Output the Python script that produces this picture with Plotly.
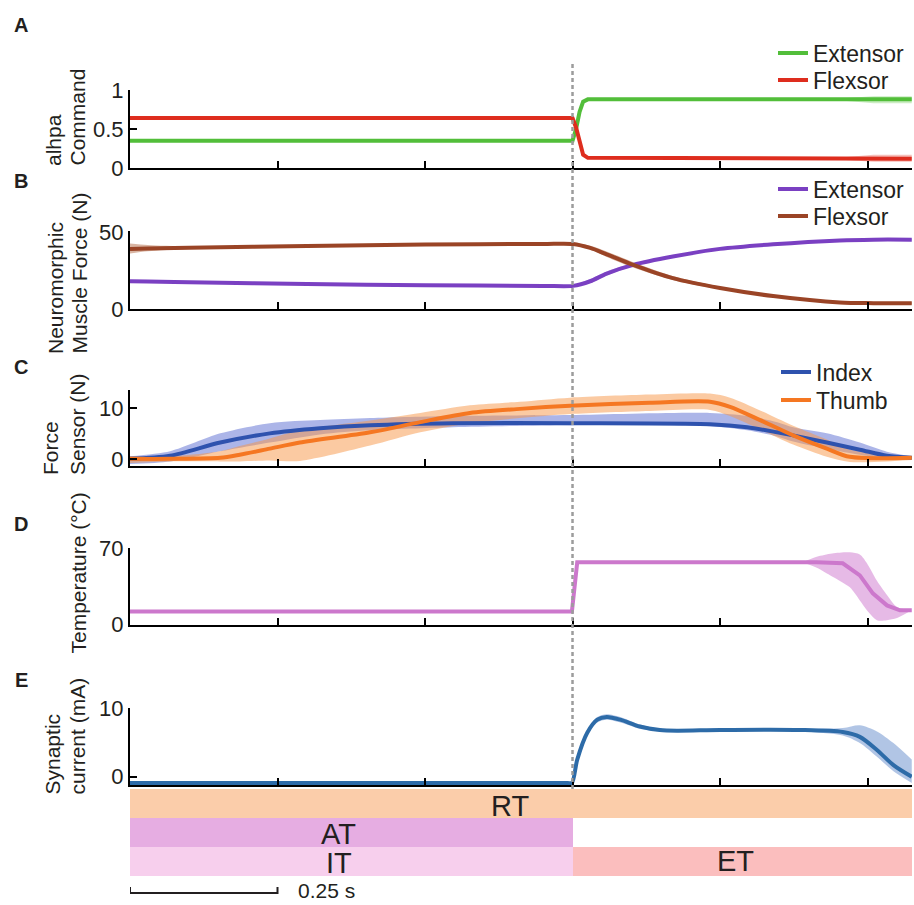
import plotly.graph_objects as go

W, H = 914, 905
def px(x):
    return x / W
def py(y):
    return 1 - y / H

# ---------------- data ----------------
T_END = 1.3254
x_ticks = [0.25, 0.5, 0.75, 1.0, 1.25]
onset_t = 0.75

# A: alpha command
tA = [0, 0.75, 0.756, 0.762, 0.768, 0.776, 1.2, 1.26, 1.325]
A_ext = [0.35, 0.35, 0.5, 0.72, 0.85, 0.88, 0.88, 0.88, 0.88]
A_ext_lo = [0.35, 0.35, 0.5, 0.72, 0.85, 0.88, 0.87, 0.83, 0.83]
A_ext_hi = [0.35, 0.35, 0.5, 0.72, 0.85, 0.88, 0.89, 0.92, 0.92]
A_flx = [0.64, 0.64, 0.52, 0.32, 0.17, 0.13, 0.12, 0.12, 0.12]
A_flx_lo = [0.64, 0.64, 0.52, 0.32, 0.17, 0.13, 0.11, 0.08, 0.08]
A_flx_hi = [0.64, 0.64, 0.52, 0.32, 0.17, 0.13, 0.13, 0.17, 0.17]

# B: neuromorphic muscle force (N)
tB = [0, 0.03, 0.1, 0.3, 0.5, 0.7, 0.751, 0.78, 0.808, 0.853, 0.92, 1.0, 1.09, 1.203, 1.26, 1.325]
B_flx = [39, 39.3, 39.8, 40.8, 41.8, 42.2, 42.2, 39.6, 35.5, 28.6, 20, 13.6, 8.4, 4.2, 3.8, 3.8]
B_flx_lo = [36, 37.5, 39, 40.3, 41.3, 41.7, 41.7, 38.6, 33.8, 26.9, 18.8, 12.8, 7.8, 3.7, 3.3, 3.3]
B_flx_hi = [42.5, 41.5, 40.6, 41.3, 42.3, 42.7, 42.8, 41.0, 37.3, 30.4, 21.4, 14.5, 9.0, 4.7, 4.3, 4.3]
B_ext = [18, 17.8, 17.3, 16.2, 15.4, 15, 15, 18, 23, 28.6, 34, 39, 42, 44.5, 45, 45]
B_ext_lo = [17.3, 17.2, 16.8, 15.7, 14.9, 14.5, 14.5, 16.8, 21.8, 27.8, 33.4, 38.5, 41.5, 44, 44.5, 44.5]
B_ext_hi = [18.7, 18.4, 17.8, 16.7, 15.9, 15.5, 15.7, 19.4, 24.4, 29.6, 34.6, 39.5, 42.5, 45, 45.5, 45.5]

# C: force sensor (N)
tCi = [0, 0.068, 0.153, 0.237, 0.322, 0.407, 0.547, 0.746, 0.983, 1.046, 1.097, 1.124, 1.181, 1.237, 1.283, 1.325]
C_idx = [0, 0.6, 3.2, 5, 6, 6.6, 7, 7, 6.8, 6.2, 5.2, 4.6, 3.2, 1.8, 0.6, 0.2]
C_idx_hi = [0.5, 1.5, 5, 7, 7.6, 8, 8.4, 8.6, 9, 8.4, 7.2, 6.2, 5, 3.2, 1.4, 0.5]
C_idx_lo = [-1, -0.5, 1.5, 3.2, 4.8, 5.6, 6.2, 6.6, 6.4, 5.6, 4.4, 3.4, 2, 0.8, 0, -0.2]
tCt = [0, 0.068, 0.153, 0.186, 0.237, 0.288, 0.407, 0.492, 0.576, 0.661, 0.746, 0.881, 0.983, 1.017, 1.068, 1.124, 1.181, 1.22, 1.325]
C_thb = [0, 0, 0.2, 0.8, 2, 3.2, 5.2, 7.2, 9, 9.8, 10.4, 11, 11.2, 10.2, 7.6, 4.6, 2, 0.4, 0.2]
C_thb_hi = [0.5, 0.5, 1.5, 2.5, 4, 5.6, 7.5, 9, 10.5, 11.2, 12, 12.6, 12.8, 12, 9.5, 6.5, 3.8, 1.8, 0.5]
C_thb_lo = [-0.8, -0.5, -0.5, -0.5, -0.3, -0.4, 2.6, 5.2, 7, 8, 8.8, 9.4, 9.6, 8.4, 5.8, 2.8, 0.4, -0.6, -0.2]

# D: temperature (degC)
tD = [0, 0.749, 0.758, 1.0, 1.164, 1.208, 1.237, 1.259, 1.283, 1.305, 1.325]
D_tmp = [12, 12, 57, 57, 57, 56, 45, 28.5, 17.5, 13, 13]
tD_band = [1.14, 1.164, 1.19, 1.22, 1.237, 1.249, 1.266, 1.283, 1.3, 1.325]
D_tmp_hi = [57, 62, 65, 66, 64, 56, 40, 27, 16, 13]
D_tmp_lo = [57, 52, 44, 34, 22, 13, 4, 4, 6, 13]

# E: synaptic current (mA)
tE = [0, 0.35, 0.7, 0.742, 0.749, 0.758, 0.775, 0.792, 0.808, 0.831, 0.864, 0.898, 0.927, 1.0, 1.136, 1.208, 1.237, 1.266, 1.294, 1.325]
E_cur = [-0.9, -0.9, -0.9, -0.9, -0.9, 2.5, 6.4, 8.3, 8.7, 8.3, 7.3, 6.8, 6.7, 6.8, 6.8, 6.5, 5.8, 3.9, 1.7, 0.0]
E_cur_hi = [-0.9, -0.9, -0.9, -0.9, -0.9, 2.7, 6.7, 8.7, 9.1, 8.7, 7.6, 7.0, 6.9, 7.0, 7.0, 7.1, 7.5, 6.6, 4.9, 2.5]
E_cur_lo = [-0.9, -0.9, -0.9, -0.9, -0.9, 2.3, 6.1, 7.9, 8.3, 7.9, 7.0, 6.6, 6.5, 6.6, 6.6, 6.0, 4.9, 2.9, 0.8, -0.9]

# Phase bars
phase_names = ["RT", "AT", "IT", "ET"]
phase_start = [0, 0, 0, 0.75]
phase_end = [1.3254, 0.75, 0.75, 1.3254]
phase_row = [2, 1, 0, 0]
phase_colors = ["#FBCDAA", "#E6ADE2", "#F7CFED", "#FBBEBE"]
phase_label_t = [0.644, 0.354, 0.354, 1.027]
scale_bar_len = 0.25

# ---------------- figure ----------------
FONT = "Liberation Sans, Arial, sans-serif"
TXT = "#231F20"
fig = go.Figure()

def band(t, lo, hi, color, ax, shape="spline"):
    fig.add_trace(go.Scatter(x=t, y=lo, mode="lines", line=dict(width=0, shape=shape, smoothing=0.8),
                             showlegend=False, hoverinfo="skip", xaxis="x" + ax, yaxis="y" + ax))
    fig.add_trace(go.Scatter(x=t, y=hi, mode="lines", line=dict(width=0, shape=shape, smoothing=0.8),
                             fill="tonexty", fillcolor=color, showlegend=False, hoverinfo="skip",
                             xaxis="x" + ax, yaxis="y" + ax))

def line(t, y, color, ax, name=None, legend="legend", shape="spline"):
    fig.add_trace(go.Scatter(x=t, y=y, mode="lines", name=name,
                             line=dict(color=color, width=4, shape=shape, smoothing=0.8),
                             showlegend=name is not None, legend=legend,
                             xaxis="x" + ax, yaxis="y" + ax))

# A
band(tA, A_ext_lo, A_ext_hi, "rgba(85,194,58,0.3)", "", "linear")
band(tA, A_flx_lo, A_flx_hi, "rgba(224,48,30,0.3)", "", "linear")
line(tA, A_ext, "#52BE3A", "", "Extensor", "legend", "linear")
line(tA, A_flx, "#DE2D1E", "", "Flexsor", "legend2", "linear")
# B
band(tB, B_flx_lo, B_flx_hi, "rgba(170,90,50,0.45)", "2")
band(tB, B_ext_lo, B_ext_hi, "rgba(125,68,200,0.35)", "2")
line(tB, B_ext, "#7A40C2", "2", "Extensor", "legend3")
line(tB, B_flx, "#9A4426", "2", "Flexsor", "legend4")
# C
band(tCi, C_idx_lo, C_idx_hi, "rgba(70,90,205,0.45)", "3")
band(tCt, C_thb_lo, C_thb_hi, "rgba(248,150,70,0.5)", "3")
line(tCi, C_idx, "#2E52AE", "3", "Index", "legend5")
line(tCt, C_thb, "#F57722", "3", "Thumb", "legend6")
# D
band(tD_band, D_tmp_lo, D_tmp_hi, "rgba(210,130,210,0.55)", "4", "spline")
line(tD, D_tmp, "#CC78CC", "4", shape="linear")
# E
band(tE, E_cur_lo, E_cur_hi, "rgba(60,110,190,0.4)", "5")
line(tE, E_cur, "#2D6BA8", "5")

# phase bars
fig.add_trace(go.Bar(
    y=phase_row, x=[e - s for s, e in zip(phase_start, phase_end)], base=phase_start,
    orientation="h", width=[1, 1, 1, 1], marker=dict(color=phase_colors, line=dict(width=0)),
    showlegend=False, hoverinfo="skip", xaxis="x6", yaxis="y6"))

# ---------------- axes ----------------
xdom = [px(130), px(912)]
panels = {
    "": dict(top=90, bot=168, rng=[0, 1], tv=[0, 0.5, 1], tt=["0", "0.5", "1"]),
    "2": dict(top=231, bot=309, rng=[0, 50.6], tv=[0, 50], tt=["0", "50"]),
    "3": dict(top=390, bot=466, rng=[-1.4, 13.5], tv=[0, 10], tt=["0", "10"]),
    "4": dict(top=548, bot=624.5, rng=[0, 70], tv=[0, 70], tt=["0", "70"]),
    "5": dict(top=708, bot=785, rng=[-1.2, 10], tv=[0, 10], tt=["0", "10"]),
}
layout_axes = {}
for k, p in panels.items():
    layout_axes["xaxis" + k] = dict(domain=xdom, range=[0, T_END], showline=True, linecolor="black",
                                    linewidth=2, ticks="inside", ticklen=7, tickwidth=2, tickcolor="black",
                                    tickvals=x_ticks, showticklabels=False, showgrid=False, zeroline=False,
                                    anchor="y" + k, fixedrange=True, automargin=False)
    layout_axes["yaxis" + k] = dict(domain=[py(p["bot"]), py(p["top"])], range=p["rng"], showline=True,
                                    linecolor="black", linewidth=2, ticks="inside", ticklen=7, tickwidth=2,
                                    tickcolor="black", tickvals=p["tv"], ticktext=p["tt"],
                                    tickfont=dict(size=22, color=TXT, family=FONT),
                                    showgrid=False, zeroline=False, anchor="x" + k, fixedrange=True,
                                    automargin=False)
layout_axes["xaxis6"] = dict(domain=xdom, range=[0, T_END], visible=False, anchor="y6", automargin=False)
layout_axes["yaxis6"] = dict(domain=[py(876), py(789)], range=[-0.5, 2.5], visible=False, anchor="x6",
                             automargin=False)

def leg(xs, ys):
    return dict(x=px(xs), y=py(ys), xanchor="left", yanchor="middle", traceorder="normal",
                font=dict(size=23, family=FONT, color=TXT), bgcolor="rgba(0,0,0,0)",
                itemwidth=30, borderwidth=0)

fig.update_layout(
    width=W, height=H, margin=dict(l=0, r=0, t=0, b=0, pad=0, autoexpand=False),
    paper_bgcolor="white", plot_bgcolor="rgba(0,0,0,0)",
    font=dict(family=FONT, color=TXT),
    barmode="overlay", bargap=0,
    legend=leg(773, 53), legend2=leg(773, 80),
    legend3=leg(773, 189), legend4=leg(773, 216),
    legend5=leg(776, 372), legend6=leg(776, 400),
    **layout_axes,
)

# dashed onset line
fig.add_shape(type="line", xref="x", yref="paper", x0=onset_t, x1=onset_t, y0=py(789), y1=py(62),
              line=dict(color="#9C9C9C", width=2.5, dash="4px,3px"), layer="above")

# scale bar
sb_y0, sb_y1 = py(893), py(887)
fig.add_shape(type="path", xref="x6", yref="paper",
              path=f"M 0,{sb_y1} L 0,{sb_y0} L {scale_bar_len},{sb_y0} L {scale_bar_len},{sb_y1}",
              line=dict(color=TXT, width=2))
fig.add_annotation(x=px(297), y=py(890), xref="paper", yref="paper", text="0.25 s", showarrow=False,
                   xanchor="left", yanchor="middle", borderpad=0,
                   font=dict(size=21, family=FONT, color=TXT))

# phase labels
label_y = [806, 834, 863, 861]
for name, t, ly in zip(phase_names, phase_label_t, label_y):
    fig.add_annotation(x=t, xref="x6", y=py(ly), yref="paper", text=name, showarrow=False,
                       xanchor="center", yanchor="middle", borderpad=0,
                       font=dict(size=29, family=FONT, color=TXT))

# panel letters
for letter, ly in zip("ABCDE", [25, 181, 367, 524, 680]):
    fig.add_annotation(x=px(21), y=py(ly), xref="paper", yref="paper", text=f"<b>{letter}</b>",
                       showarrow=False, xanchor="center", yanchor="middle",
                       font=dict(size=20, family=FONT, color=TXT))

# y-axis titles (rotated lines, bottom-aligned)
titles = [
    ("alhpa", 53, 168), ("Command", 77, 168),
    ("Neuromorphic", 55, 356), ("Muscle Force (N)", 79, 356),
    ("Force", 50, 477), ("Sensor (N)", 77, 477),
    ("Temperature (°C)", 78, 656),
    ("Synaptic", 52, 797), ("current (mA)", 77, 797),
]
for txt, cx, bot in titles:
    fig.add_annotation(x=px(cx), y=py(bot), xref="paper", yref="paper", text=txt, showarrow=False,
                       textangle=-90, xanchor="center", yanchor="bottom",
                       font=dict(size=21, family=FONT, color=TXT))

fig.write_html("out.html", config={"displayModeBar": False},
               post_script="document.body.style.margin='0';")
